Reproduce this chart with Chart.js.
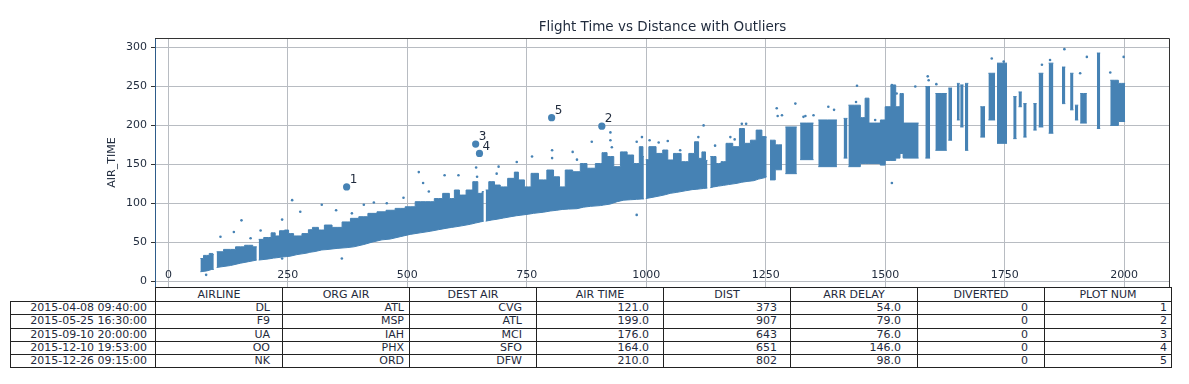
<!DOCTYPE html>
<html>
<head>
<meta charset="utf-8">
<script src="https://cdn.jsdelivr.net/npm/chart.js@4.4.1/dist/chart.umd.min.js"></script>
<style>
  html, body { margin: 0; padding: 0; background: #fff; }
  #wrap { position: relative; width: 1189px; height: 384px; overflow: hidden; }
  #plot { position: absolute; left: 0; top: 0; }
  #tbl { position: absolute; left: 10px; top: 287px; border-collapse: collapse; table-layout: fixed;
         font-family: "DejaVu Sans"; font-size: 11px; color: #1f2a3c; background: #fff; }
  #tbl td, #tbl th { border: 1px solid #222; padding: 0; line-height: 12px; white-space: nowrap;
                     overflow: hidden; font-weight: normal; }
  #tbl th { text-align: center; height: 13px; }
  #tbl td { text-align: right; height: 12.3px; }
  #tbl th.blank { border: none; }
</style>
</head>
<body>
<div id="wrap">
  <canvas id="plot" width="1189" height="384"></canvas>
  <table id="tbl"></table>
</div>
<script>
// outline of the dense part of the cloud (null = visible gap)
var denseDist = [67, 80, 91, 95, null,
  101, 130, 151, 168, 185, null,
  189, 210, 220, 227, 238, 248, 255, 269, 290, 296, 307, 321, 332, 353, 374, 388, 409, 426, 447, 464,
  485, 506, 527, 548, 565, 583, 593, 604, 614, 632, 642, 653, 660, null,
  664, 677, 688, 701, 719, 729, 736, 754, 764, 785, 799, 813, 824, 837, 855, 869, 883, 904, 911, 925,
  939, 953, 967, 980, 991, 995, null,
  999, 1012, 1029, 1040, 1050, 1064, 1082, 1096, 1106, 1113, 1120, 1128, null,
  1134, 1141, 1151, 1162, 1172, 1190, 1200, 1211, 1225, 1235, 1249, 1252];
var denseLow = [12, 13, 15, 15, null,
  17.5, 20, 23, 25, 27, null,
  27, 28.5, 29.5, 30, 31, 31.5, 32, 34, 36, 37, 38, 40, 40.5, 42, 43, 44, 47, 50, 53, 54,
  57, 60, 62, 64, 66, 68, 69, 70, 71, 73, 74.5, 76, 77, null,
  77, 78.5, 79.5, 81, 83, 84, 84.5, 86, 87, 88.5, 90, 91, 92, 92.5, 93, 95, 96, 97, 97.7, 99,
  102, 104, 104.5, 105, 105.5, 105.5, null,
  106, 107.5, 109.5, 111, 112.7, 114, 116, 117.5, 118, 118.5, 119, 119.5, null,
  120, 121, 122, 123, 124, 125.6, 127, 128, 129, 131, 133, 134];
var denseHigh = [29, 33, 35.5, 34, null,
  37.7, 40.7, 44, 46, 44, null,
  53.6, 56, 62, 58, 64.7, 65.6, 61, 58, 61, 66, 69, 65.6, 72, 69, 76, 80.6, 82.7, 87, 89, 91,
  93.4, 95.5, 102, 102, 106, 112.7, 106, 117, 110.5, 117, 127.7, 112.7, 115, null,
  117, 127.7, 123.4, 121, 132, 140, 130, 121, 138.4, 130, 142.7, 134, 121, 142.7, 140.5, 151, 145, 151, 165, 160,
  147, 166, 162, 151, 172.7, 160, null,
  156, 172.7, 164, 168.4, 155.6, 164, 153.4, 164, 179, 157.7, 166, 155, null,
  160, 160, 151, 153.4, 177, 172.7, 196, 177, 181, 194, 185.6, 185];

// long routes come as separate vertical streaks: [from dist, to dist, low air time, high air time]
var sparseStreaks = [
  [1259, 1270, 130, 181], [1270, 1284, 143, 175], [1291, 1315, 138, 198], [1322, 1350, 156, 203],
  [1360, 1399, 147, 207], [1413, 1421, 158, 209], [1423, 1448, 147, 226], [1448, 1458, 151, 210],
  [1458, 1466, 151, 235], [1466, 1490, 151, 203], [1490, 1500, 149, 207], [1500, 1512, 155, 224],
  [1512, 1522, 155, 252], [1522, 1531, 158, 224], [1531, 1538, 164, 241], [1538, 1570, 158, 203],
  [1584, 1594, 158, 250], [1605, 1629, 168, 241], [1632, 1640, 181, 248], [1650, 1656, 207, 254],
  [1657, 1664, 198, 252], [1667, 1674, 168, 254], [1699, 1709, 185, 224], [1716, 1730, 207, 267],
  [1734, 1755, 177, 280], [1768, 1775, 183, 237], [1779, 1786, 224, 243], [1789, 1796, 185, 228],
  [1810, 1817, 194, 228], [1821, 1831, 198, 267], [1842, 1852, 190, 280], [1870, 1877, 228, 275],
  [1887, 1894, 220, 267], [1897, 1904, 207, 226], [1908, 1922, 203, 241], [1943, 1950, 196, 293],
  [1971, 1988, 200, 258], [1988, 2002, 205, 254]
];

// stray flights outside the main band
var dotDist = [79, 109, 137, 153, 172, 193, 238, 238, 259, 276, 321, 351, 363, 384, 409, 430, 457, 492,
  524, 533, 545, 578, 607, 644, 646, 687, 691, 729, 761, 803, 803, 846, 855, 886, 925, 925, 928, 980,
  980, 991, 1007, 1026, 1045, 1071, 1109, 1120, 1144, 1176, 1185, 1200, 1209, 1273, 1275, 1284, 1312,
  1329, 1333, 1350, 1381, 1393, 1439, 1441, 1479, 1514, 1514, 1524, 1563, 1589, 1591, 1607, 1636, 1723,
  1748, 1828, 1845, 1875, 1908, 1922, 1971, 1999];
var dotAir = [8, 57, 63, 78, 55, 65, 79, 29, 104, 89, 98, 91, 29, 87, 98, 101, 100, 107,
  140, 126, 115, 136, 136, 146, 134, 138, 147, 153, 160, 168, 158, 166, 156, 179, 191, 181, 172, 179,
  85, 185, 181, 178, 180, 168, 185, 200, 174, 185, 182, 202, 202, 222, 212, 213, 228,
  211, 212, 213, 224, 220, 230, 251, 207, 126, 252, 241, 250, 263, 258, 253, 246, 286,
  282, 278, 284, 298, 267, 288, 268, 288];

// outlier table
var flightDate = ['2015-04-08 09:40:00', '2015-05-25 16:30:00', '2015-09-10 20:00:00', '2015-12-10 19:53:00', '2015-12-26 09:15:00'];
var airline = ['DL', 'F9', 'UA', 'OO', 'NK'];
var orgAir = ['ATL', 'MSP', 'IAH', 'PHX', 'ORD'];
var destAir = ['CVG', 'ATL', 'MCI', 'SFO', 'DFW'];
var airTime = [121.0, 199.0, 176.0, 164.0, 210.0];
var dist = [373, 907, 643, 651, 802];
var arrDelay = [54.0, 79.0, 76.0, 146.0, 98.0];
var diverted = [0, 0, 0, 0, 0];
var plotNum = [1, 2, 3, 4, 5];
var headers = ['AIRLINE', 'ORG AIR', 'DEST AIR', 'AIR TIME', 'DIST', 'ARR DELAY', 'DIVERTED', 'PLOT NUM'];
var chartTitle = 'Flight Time vs Distance with Outliers';

var blue = '#4682b4';
var ink = '#1f2a3c';

function bandPoints(vals, idx) {
  var pts = denseDist.map(function (d, i) {
    return d === null ? {x: (denseDist[i - 1] + denseDist[i + 1]) / 2, y: null} : {x: d, y: vals[i]};
  });
  var last = denseDist[denseDist.length - 1];
  sparseStreaks.forEach(function (s) {
    if (s[0] > last + 0.5) pts.push({x: (last + s[0]) / 2, y: null});
    pts.push({x: s[0], y: s[idx]}, {x: s[1], y: s[idx]});
    last = s[1];
  });
  return pts;
}

// title, point numbers and x labels sit where matplotlib put them (inside / over the axes)
var extras = {
  id: 'extras',
  afterDatasetsDraw: function (chart) {
    var c = chart.ctx, a = chart.chartArea, x = chart.scales.x, y = chart.scales.y;
    c.save();
    c.fillStyle = ink;
    c.font = '13.5px "DejaVu Sans"';
    c.textAlign = 'center';
    c.textBaseline = 'middle';
    c.fillText(chartTitle, (a.left + a.right) / 2, a.top - 11);
    c.font = '12px "DejaVu Sans"';
    c.textAlign = 'left';
    c.textBaseline = 'bottom';
    plotNum.forEach(function (n, i) {
      c.fillText(String(n), x.getPixelForValue(dist[i]) + 3, y.getPixelForValue(airTime[i]) - 1);
    });
    c.font = '11px "DejaVu Sans"';
    c.textAlign = 'center';
    c.textBaseline = 'middle';
    x.ticks.forEach(function (t) {
      c.fillText(String(t.value), x.getPixelForValue(t.value), a.bottom - 12);
    });
    c.strokeStyle = '#333';
    c.lineWidth = 1;
    c.beginPath();
    c.moveTo(a.left, a.top + 0.5);
    c.lineTo(a.right - 0.5, a.top + 0.5);
    c.lineTo(a.right - 0.5, a.bottom);
    c.stroke();
    c.restore();
  }
};

const ctx = document.getElementById('plot').getContext('2d');
const chart = new Chart(ctx, {
  type: 'scatter',
  data: {
    datasets: [
      {type: 'line', label: 'band top', data: bandPoints(denseHigh, 3), borderColor: blue, borderWidth: 1,
       backgroundColor: blue, pointRadius: 0, fill: '+1', stepped: 'middle', spanGaps: false},
      {type: 'line', label: 'band bottom', data: bandPoints(denseLow, 2), borderColor: blue, borderWidth: 1,
       pointRadius: 0, fill: false, tension: 0, spanGaps: false},
      {label: 'flights', data: dotDist.map(function (d, i) { return {x: d, y: dotAir[i]}; }),
       pointRadius: 1.3, backgroundColor: blue, borderWidth: 0},
      {label: 'outliers', data: dist.map(function (d, i) { return {x: d, y: airTime[i]}; }),
       pointRadius: 3.6, backgroundColor: blue, borderWidth: 0}
    ]
  },
  options: {
    responsive: false,
    animation: false,
    events: [],
    layout: {padding: {left: 100, right: 19, top: 38, bottom: 0}},
    plugins: {
      legend: {display: false},
      tooltip: {enabled: false},
      title: {display: false}
    },
    scales: {
      x: {
        type: 'linear',
        min: -28,
        max: 2096,
        ticks: {display: false, stepSize: 250, includeBounds: false},
        grid: {color: '#b8bcc2', lineWidth: 1, drawTicks: false},
        border: {display: false},
        afterFit: function (s) { s.height = 97; }
      },
      y: {
        min: -7.6,
        max: 312.3,
        ticks: {stepSize: 50, includeBounds: false, color: ink, padding: 4,
                font: {family: 'DejaVu Sans', size: 11}},
        grid: {color: '#b8bcc2', lineWidth: 1, tickLength: 4, tickColor: '#333'},
        border: {display: true, color: '#2e5c8a', width: 1},
        title: {display: true, text: 'AIR_TIME', color: ink, padding: {top: 6, bottom: 0},
                font: {family: 'DejaVu Sans', size: 11}},
        afterFit: function (s) { s.width = 55; }
      }
    }
  },
  plugins: [extras]
});

// the table under the axes
var tbl = document.getElementById('tbl');
var colW = [145, 127, 127, 127, 127, 127, 127, 127, 127];
var colPad = [8, 12, 5, 14, 14, 13, 16, 16, 4];
var cg = document.createElement('colgroup');
colW.forEach(function (w) { var col = document.createElement('col'); col.style.width = w + 'px'; cg.appendChild(col); });
tbl.appendChild(cg);
tbl.style.width = colW.reduce(function (p, q) { return p + q; }, 0) + 'px';
var hr = document.createElement('tr');
var blank = document.createElement('th');
blank.className = 'blank';
hr.appendChild(blank);
headers.forEach(function (h) { var th = document.createElement('th'); th.textContent = h; hr.appendChild(th); });
tbl.appendChild(hr);
flightDate.forEach(function (fd, i) {
  var tr = document.createElement('tr');
  var cells = [fd, airline[i], orgAir[i], destAir[i], airTime[i].toFixed(1), String(dist[i]),
               arrDelay[i].toFixed(1), String(diverted[i]), String(plotNum[i])];
  cells.forEach(function (v, j) {
    var td = document.createElement('td');
    td.textContent = v;
    td.style.paddingRight = colPad[j] + 'px';
    tr.appendChild(td);
  });
  tbl.appendChild(tr);
});
</script>
</body>
</html>
